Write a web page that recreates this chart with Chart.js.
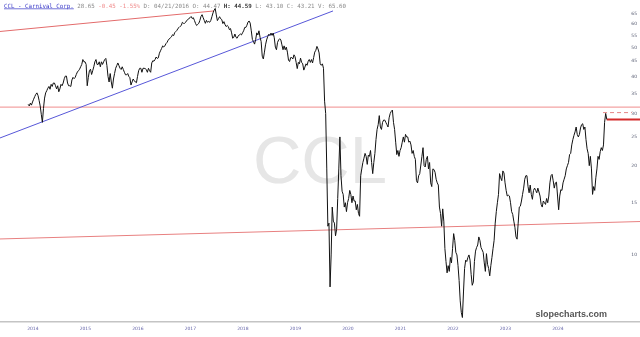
<!DOCTYPE html>
<html lang="en">
  <head>
    <meta charset="UTF-8" />
    <title>CCL - Carnival Corp.</title>
    <script src="https://cdn.jsdelivr.net/npm/chart.js"></script>
    <style>
      html, body { margin: 0; padding: 0; background: #fff; }
    </style>
  </head>
  <body>
    <canvas id="myChart" width="640" height="337"></canvas>
    <script>
      // weekly-ish closes, 4 per month (adjusted), Jul 2014 .. Jul 2025
      var close2014 = [
        32.2, 31.8, 32.5, 32.0, 32.8, 33.5, 34.2, 34.8, 35.2, 34.5, 33.2, 31.8,
        29.8, 28.0, 31.2, 33.8, 35.2, 35.8, 36.5, 37.0, 36.2, 37.6, 37.0, 38.0,
      ]
      var close2015 = [
        38.0, 37.2, 36.3, 37.2, 35.5, 36.3, 37.6, 37.2, 38.0, 39.3, 40.1, 40.1,
        38.0, 37.2, 37.2, 37.0, 38.9, 39.7, 39.3, 39.7, 40.6, 41.4, 41.8, 42.3,
        43.1, 43.9, 45.6, 44.8, 44.8, 43.9, 37.2, 39.7, 41.8, 42.3, 40.6, 41.8,
        43.1, 44.8, 45.6, 43.9, 43.9, 44.8, 43.1, 44.8, 43.9, 44.8, 45.6, 46.0,
      ]
      var close2016 = [
        43.5, 40.0, 38.3, 40.9, 38.3, 36.5, 39.2, 40.9, 42.6, 43.5, 44.4, 43.5,
        42.6, 42.2, 43.1, 42.2, 41.3, 40.5, 40.5, 40.9, 40.0, 39.6, 37.4, 38.3,
        39.2, 38.7, 38.3, 38.1, 40.0, 41.8, 42.6, 42.6, 41.3, 42.6, 42.6, 42.5,
        42.2, 41.3, 42.6, 41.8, 41.3, 44.4, 45.2, 45.0, 45.6, 46.5, 46.0, 46.2,
      ]
      var close2017 = [
        47.9, 48.8, 49.7, 50.7, 50.3, 50.7, 51.6, 52.1, 53.0, 53.5, 54.0, 54.4,
        55.3, 54.9, 56.2, 56.7, 57.2, 58.1, 58.5, 59.0, 59.4, 60.9, 60.4, 60.4,
        60.9, 61.8, 62.2, 62.7, 63.1, 63.7, 62.7, 63.1, 61.8, 60.4, 59.4, 59.9,
        60.4, 61.8, 63.7, 64.6, 63.1, 61.8, 60.4, 61.8, 60.9, 61.3, 60.9, 61.8,
      ]
      var close2018 = [
        63.6, 65.5, 66.9, 67.8, 64.5, 61.7, 62.6, 63.6, 62.6, 62.2, 60.3, 61.2,
        59.8, 58.9, 59.4, 58.9, 57.5, 58.0, 56.1, 53.8, 54.2, 55.6, 54.2, 53.8,
        54.7, 55.2, 55.6, 55.2, 56.1, 57.0, 58.5, 58.5, 59.5, 61.0, 61.5, 60.5,
        57.0, 53.3, 52.4, 51.4, 53.3, 56.1, 55.2, 57.0, 54.2, 52.4, 46.8, 45.8,
      ]
      var close2019 = [
        48.3, 51.1, 53.1, 54.5, 55.5, 55.0, 56.0, 55.0, 56.0, 54.0, 50.2, 49.2,
        52.1, 53.1, 53.6, 53.1, 51.1, 49.2, 50.7, 49.2, 50.2, 48.3, 45.4, 44.9,
        46.3, 46.3, 45.8, 47.3, 46.6, 44.6, 42.5, 44.6, 44.1, 46.1, 44.6, 44.1,
        42.0, 43.0, 44.1, 43.6, 45.0, 45.6, 44.6, 45.6, 44.4, 46.3, 48.3, 49.0,
      ]
      var close2020 = [
        50.5, 49.5, 48.0, 44.1, 43.6, 44.1, 42.6, 33.0, 30.0, 19.5, 12.5, 12.8,
        7.8, 10.0, 14.5, 13.0, 12.8, 11.6, 12.2, 15.5, 19.5, 25.0, 18.5, 16.4,
        16.0, 14.5, 15.0, 14.0, 15.0, 15.5, 16.5, 16.0, 15.0, 15.8, 15.2, 15.2,
        14.2, 14.8, 13.8, 13.5, 18.5, 19.5, 20.5, 21.2, 22.0, 21.5, 20.2, 21.7,
      ]
      var close2021 = [
        21.5, 22.5, 20.5, 18.8, 20.5, 22.0, 24.5, 26.5, 27.5, 29.5, 27.0, 26.5,
        28.0, 28.5, 28.5, 28.0, 27.5, 27.0, 29.0, 30.0, 30.5, 30.8, 28.0, 26.5,
        24.0, 21.8, 22.5, 21.5, 22.5, 23.0, 24.0, 25.0, 24.0, 25.5, 25.0, 25.0,
        24.0, 24.2, 23.5, 22.0, 22.5, 21.5, 21.0, 17.8, 17.5, 18.5, 18.8, 20.1,
      ]
      var close2022 = [
        21.5, 23.0, 20.0, 19.8, 21.0, 21.5, 19.5, 20.5, 17.5, 17.0, 19.5, 19.4,
        19.0, 18.0, 17.5, 17.2, 14.5, 13.8, 12.5, 14.3, 13.0, 10.5, 9.5, 8.7,
        9.2, 8.8, 9.8, 9.4, 10.5, 11.8, 11.2, 10.2, 10.0, 9.2, 8.2, 7.0,
        6.4, 6.15, 7.5, 9.0, 9.6, 9.5, 9.8, 10.0, 9.6, 8.6, 7.9, 8.1,
      ]
      var close2023 = [
        9.5, 10.3, 10.6, 10.8, 11.5, 11.2, 10.6, 10.4, 10.2, 9.4, 8.8, 10.1,
        9.3, 9.0, 8.5, 9.2, 9.8, 10.5, 11.2, 12.8, 14.0, 15.0, 16.0, 18.8,
        18.2, 17.8, 19.2, 18.9, 17.5, 16.5, 15.8, 15.9, 15.8, 15.0, 14.0, 13.7,
        13.0, 12.4, 11.5, 11.3, 12.8, 14.5, 14.6, 15.2, 16.0, 16.8, 18.0, 18.5,
      ]
      var close2024 = [
        18.5, 17.0, 16.2, 17.2, 16.0, 15.4, 16.5, 16.8, 16.5, 16.2, 16.8, 16.3,
        15.8, 14.8, 14.5, 15.2, 15.0, 14.8, 15.5, 15.0, 15.8, 17.5, 18.5, 18.7,
        17.8, 16.8, 17.5, 17.6, 15.8, 14.2, 15.8, 16.6, 16.5, 17.5, 18.0, 18.5,
        19.5, 20.0, 20.5, 21.8, 22.0, 23.5, 24.5, 25.3, 26.0, 27.0, 25.5, 25.0,
      ]
      var close2025 = [
        25.5, 26.8, 27.5, 27.7, 26.5, 27.0, 24.5, 22.8, 22.0, 20.0, 21.5, 19.5,
        16.0, 17.0, 16.5, 18.2, 19.5, 21.5, 21.0, 22.3, 23.0, 22.5, 23.5, 28.0,
        30.0, 28.65,
      ]
      var years = [
        [2014, 6, close2014], [2015, 0, close2015], [2016, 0, close2016],
        [2017, 0, close2017], [2018, 0, close2018], [2019, 0, close2019],
        [2020, 0, close2020], [2021, 0, close2021], [2022, 0, close2022],
        [2023, 0, close2023], [2024, 0, close2024], [2025, 0, close2025],
      ]

      // drawn lines, [year, price] endpoints
      var upperRed = [[2013.974, 56.7], [2018.05, 66.5]]
      var blueTrend = [[2013.974, 24.8], [2020.317, 66.5]]
      var pinkLevel = [[2013.974, 31.5], [2026.164, 31.5]]
      var lowerRed = [[2013.974, 11.32], [2026.164, 12.96]]
      var dashedLevel = [[2025.46, 30.2], [2026.01, 30.2]]
      var lastPrice = [[2025.53, 28.65], [2026.164, 28.65]]

      var yearLabels = ["2014", "2015", "2016", "2017", "2018", "2019", "2020", "2021", "2022", "2023", "2024"]
      var priceTicks = [10, 15, 20, 25, 30, 35, 40, 45, 50, 55, 60, 65]

      var header = [
        { t: "CCL - Carnival Corp.", c: "#3a3ac8", u: true },
        { t: " 28.65", c: "#8a8a8a" },
        { t: " -0.45 -1.55%", c: "#f08c8c" },
        { t: " D: 04/21/2016 O: 44.47 ", c: "#8a8a8a" },
        { t: "H: 44.59", c: "#333", b: true },
        { t: " L: 43.10 C: 43.21 V: 65.60", c: "#8a8a8a" },
      ]

      var X_MIN = 2013.974
      var X_MAX = 2026.164
      var Y_MIN = 5.94
      var Y_MAX = 72.4
      var LABEL_SHIFT = 0.6

      document.addEventListener("DOMContentLoaded", function () {
        var ctx = document.getElementById("myChart").getContext("2d")

        var prices = []
        years.forEach(function (row) {
          row[2].forEach(function (v, i) {
            var m = row[1] + Math.floor(i / 4)
            var w = i % 4
            prices.push({ x: row[0] + (m + (w + 0.5) / 4) / 12, y: v })
          })
        })

        function seg(arr) {
          return arr.map(function (p) { return { x: p[0], y: p[1] } })
        }
        function lineSet(arr, color, width, dash) {
          return {
            data: seg(arr),
            borderColor: color,
            borderWidth: width,
            borderDash: dash || [],
            pointRadius: 0,
            tension: 0,
          }
        }

        var overlay = {
          id: "overlay",
          beforeDatasetsDraw: function (chart) {
            var c = chart.ctx
            var a = chart.chartArea
            c.save()
            c.fillStyle = "#e6e6e6"
            c.font = "67px 'Liberation Sans', Arial, sans-serif"
            c.textAlign = "center"
            c.textBaseline = "middle"
            c.fillText("CCL", (a.left + a.right) / 2, 165)
            c.restore()
          },
          afterDraw: function (chart) {
            var c = chart.ctx
            var ys = chart.scales.y
            c.save()
            // price labels on the right
            c.font = "4.5px 'DejaVu Sans', sans-serif"
            c.fillStyle = "#555a70"
            c.textAlign = "right"
            c.textBaseline = "middle"
            priceTicks.forEach(function (v) {
              c.fillText(String(v), 637, ys.getPixelForValue(v))
            })
            // header line
            c.textAlign = "left"
            c.textBaseline = "alphabetic"
            var x = 4
            header.forEach(function (h) {
              c.font = (h.b ? "bold " : "") + "5.8px 'DejaVu Sans Mono', monospace"
              c.fillStyle = h.c
              c.fillText(h.t, x, 7.5)
              var w = c.measureText(h.t).width
              if (h.u) {
                c.fillRect(x, 8.5, w, 0.7)
              }
              x += w
            })
            // site mark
            c.font = "bold 9px 'Liberation Sans', Arial, sans-serif"
            c.fillStyle = "#555"
            c.textAlign = "right"
            c.textBaseline = "middle"
            c.fillText("slopecharts.com", 607, 315)
            c.restore()
          },
        }

        new Chart(ctx, {
          type: "line",
          data: {
            datasets: [
              lineSet(prices.map(function (p) { return [p.x, p.y] }), "#111", 1),
              lineSet(lastPrice, "#d42a2a", 2),
              lineSet(dashedLevel, "#e58585", 1, [4, 3]),
              lineSet(upperRed, "#e36b6b", 1),
              lineSet(blueTrend, "#5757d8", 1),
              lineSet(pinkLevel, "#f3a3a3", 1.2),
              lineSet(lowerRed, "#e88080", 1),
            ],
          },
          options: {
            responsive: false,
            animation: false,
            devicePixelRatio: 1,
            layout: { padding: 0 },
            plugins: {
              legend: { display: false },
              tooltip: { enabled: false },
            },
            scales: {
              x: {
                type: "linear",
                min: X_MIN,
                max: X_MAX,
                afterBuildTicks: function (s) {
                  s.ticks = yearLabels.map(function (y) { return { value: Number(y) + LABEL_SHIFT } })
                },
                afterFit: function (s) { s.height = 15 },
                ticks: {
                  callback: function (v) { return String(Math.floor(v)) },
                  font: { size: 4.5, family: "'DejaVu Sans', sans-serif" },
                  color: "#6464a8",
                  padding: 4,
                  maxRotation: 0,
                  autoSkip: false,
                },
                grid: { display: false, drawTicks: false },
                border: { display: true, color: "#c4c4c4", width: 1.5 },
              },
              y: {
                type: "logarithmic",
                min: Y_MIN,
                max: Y_MAX,
                display: false,
              },
            },
          },
          plugins: [overlay],
        })
      })
    </script>
  </body>
</html>
